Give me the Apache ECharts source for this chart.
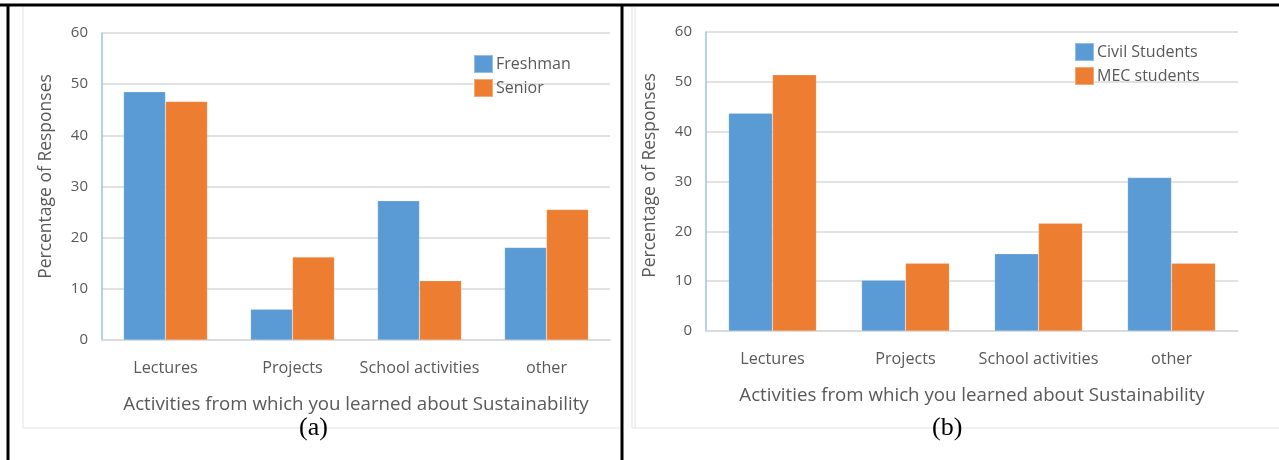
<!DOCTYPE html>
<html><head><meta charset="utf-8">
<script src="https://cdn.jsdelivr.net/npm/echarts@6/dist/echarts.min.js"></script>
<style>html,body{margin:0;padding:0;background:#fff;}#c{width:1279px;height:460px;}</style>
</head><body><div id="c"></div>
<script>
const categories = ['Lectures', 'Projects', 'School activities', 'other'];
const freshman = [48.5, 6.0, 27.2, 18.1];
const senior = [46.6, 16.2, 11.6, 25.5];
const civil = [43.7, 10.2, 15.5, 30.8];
const mec = [51.4, 13.6, 21.6, 13.6];
const yTicks = [0, 10, 20, 30, 40, 50, 60];
const xName = 'Activities from which you learned about Sustainability';
const yName = 'Percentage of Responses';

const BLUE = '#5B9BD5', ORANGE = '#ED7D31', TXT = '#595959', GRID = '#D9D9D9';
const FONT = 'Open Sans';

function xAx(gi) {
  return {
    type: 'category', gridIndex: gi, data: categories,
    name: xName, nameLocation: 'middle', nameGap: 55.5,
    nameTextStyle: {fontFamily: FONT, fontSize: 18.7, color: TXT},
    axisLine: {lineStyle: {color: GRID, width: 1.5}},
    axisTick: {show: false},
    axisLabel: {fontFamily: FONT, fontSize: 16.2, color: TXT, margin: 20.5, interval: 0}
  };
}
function yAx(gi, shift) {
  return {
    type: 'value', gridIndex: gi, min: 0, max: 60, interval: 10,
    name: yName, nameLocation: 'middle', nameGap: 47, nameRotate: 90,
    nameTextStyle: {fontFamily: FONT, fontSize: 17.5, color: TXT, padding: [0, 0, 0, shift]},
    axisLine: {show: true, lineStyle: {color: '#9DC3E6', width: 1.5}},
    axisTick: {show: false},
    splitLine: {lineStyle: {color: GRID, width: 1.5}},
    axisLabel: {fontFamily: FONT, fontSize: 15, color: TXT, margin: 14,
      formatter: v => yTicks.includes(v) ? String(v) : ''}
  };
}
function bar(name, data, color, gi) {
  return {type: 'bar', name, data, xAxisIndex: gi, yAxisIndex: gi,
    barWidth: '33%', barGap: '0%',
    itemStyle: {color, borderColor: 'rgba(255,255,255,0.35)', borderWidth: 0.5}};
}
function legend(names, left, top) {
  return {data: names, orient: 'vertical', left, top, padding: 0,
    itemWidth: 19, itemHeight: 18, itemGap: 4, icon: 'rect',
    textStyle: {fontFamily: FONT, fontSize: 16, color: TXT, padding: [0, 0, 0, -2]}};
}

const chart = echarts.init(document.getElementById('c'), null, {renderer: 'canvas'});
chart.setOption({
  animation: false,
  backgroundColor: '#fff',
  grid: [
    {left: 102, right: 669, top: 33, bottom: 120},
    {left: 706, right: 41, top: 32, bottom: 129}
  ],
  xAxis: [xAx(0), xAx(1)],
  yAxis: [yAx(0, 20), yAx(1, 12)],
  legend: [
    legend(['Freshman', 'Senior'], 473, 54),
    legend(['Civil Students', 'MEC students'], 1074, 42)
  ],
  series: [
    bar('Freshman', freshman, BLUE, 0),
    bar('Senior', senior, ORANGE, 0),
    bar('Civil Students', civil, BLUE, 1),
    bar('MEC students', mec, ORANGE, 1)
  ],
  graphic: [
    {type: 'line', shape: {x1: 23, y1: 7, x2: 23, y2: 428}, style: {stroke: '#E3E3E3', lineWidth: 1}, silent: true},
    {type: 'line', shape: {x1: 23, y1: 428, x2: 620, y2: 428}, style: {stroke: '#E3E3E3', lineWidth: 1}, silent: true},
    {type: 'line', shape: {x1: 632, y1: 7, x2: 632, y2: 428}, style: {stroke: '#E3E3E3', lineWidth: 1}, silent: true},
    {type: 'line', shape: {x1: 635, y1: 7, x2: 635, y2: 428}, style: {stroke: '#E3E3E3', lineWidth: 1}, silent: true},
    {type: 'line', shape: {x1: 632, y1: 428, x2: 1279, y2: 428}, style: {stroke: '#E3E3E3', lineWidth: 1}, silent: true},
    {type: 'line', shape: {x1: 0, y1: 5, x2: 1279, y2: 5}, style: {stroke: '#000', lineWidth: 3}, silent: true},
    {type: 'line', shape: {x1: 8, y1: 4, x2: 8, y2: 460}, style: {stroke: '#000', lineWidth: 3}, silent: true},
    {type: 'line', shape: {x1: 622, y1: 4, x2: 622, y2: 460}, style: {stroke: '#000', lineWidth: 3}, silent: true},
    {type: 'text', left: 299, top: 415, style: {text: '(a)', font: '26px "Liberation Serif"', fill: '#000'}},
    {type: 'text', left: 932, top: 415, style: {text: '(b)', font: '26px "Liberation Serif"', fill: '#000'}}
  ]
});
</script></body></html>
